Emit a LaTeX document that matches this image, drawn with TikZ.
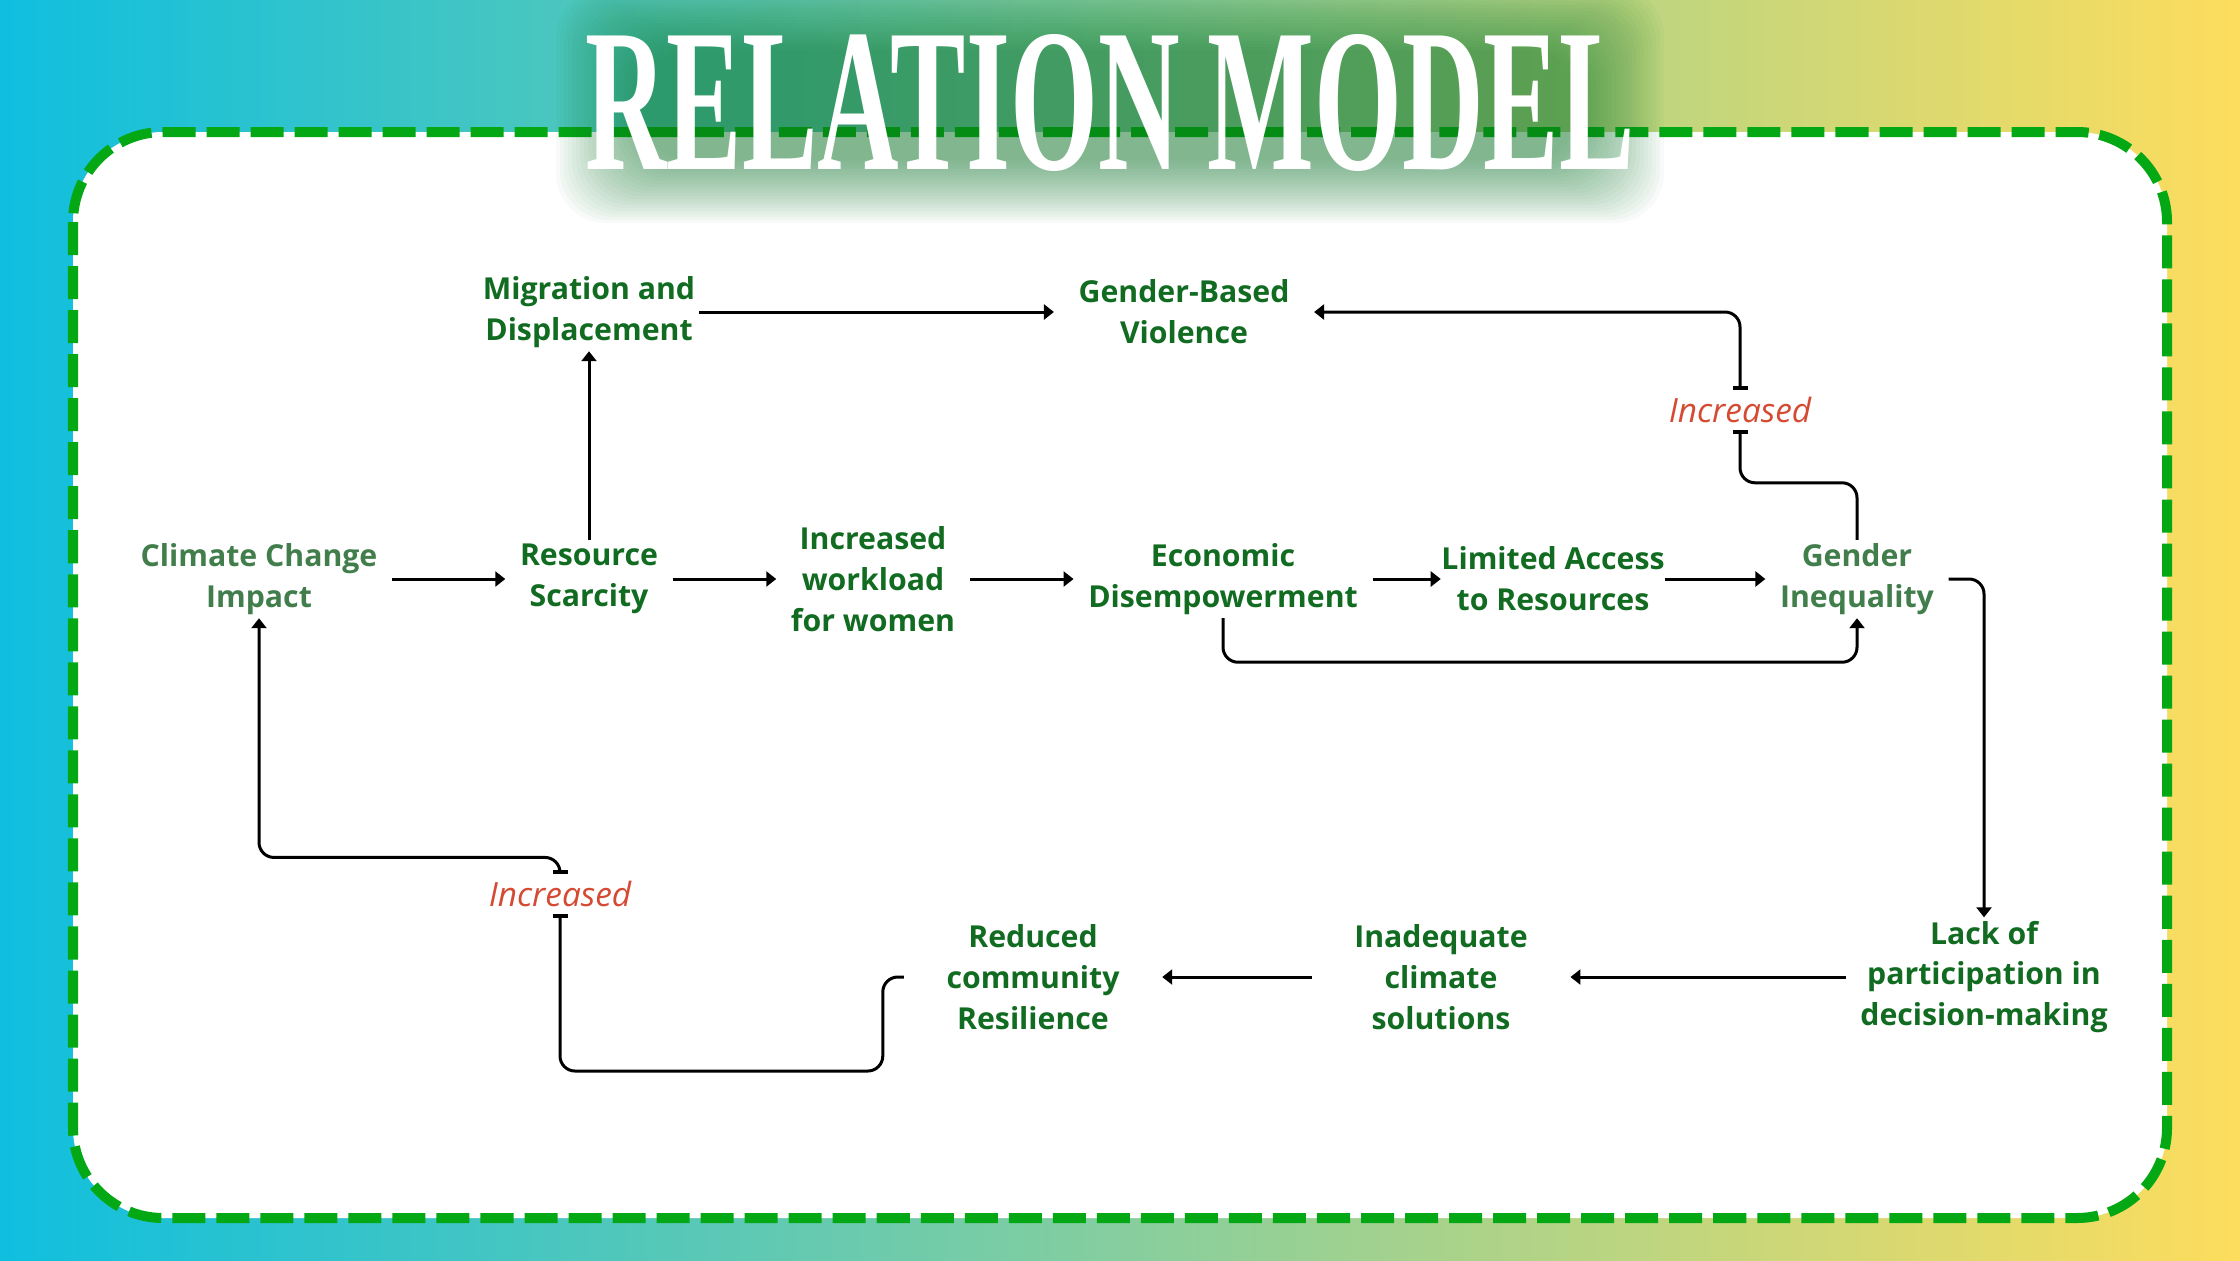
\documentclass[tikz,border=0pt]{standalone}
\usepackage{fontspec}
\setmainfont{Open Sans}
\newfontfamily\titlefont{Liberation Serif}
\usetikzlibrary{arrows.meta}
\definecolor{bgleft}{RGB}{15,191,223}
\definecolor{bgmid}{RGB}{140,205,145}
\definecolor{bgright}{RGB}{253,221,93}
\definecolor{dashgreen}{RGB}{4,168,21}
\definecolor{txtgreen}{RGB}{17,108,33}
\definecolor{fadegreen}{RGB}{65,126,76}
\definecolor{glowgreen}{RGB}{20,125,50}
\definecolor{notered}{RGB}{213,74,51}
\tikzset{
	item/.style={align=center, text=txtgreen, font=\bfseries\fontsize{8.6}{11.6}\selectfont, inner xsep=0.14cm, inner ysep=0.03cm},
	faded/.style={item, text=fadegreen},
	note/.style={text=notered, font=\itshape\fontsize{9.5}{11}\selectfont, inner xsep=0.05cm, inner ysep=0.06cm},
	link/.style={line width=0.03cm, -{Triangle[length=0.1cm,width=0.15cm]}, rounded corners=0.15cm},
	cut/.style={line width=0.03cm, -{Bar[width=0.15cm,line width=0.04cm]}, rounded corners=0.15cm},
	barlink/.style={link, {Bar[width=0.15cm,line width=0.04cm]}-{Triangle[length=0.1cm,width=0.15cm]}}
}
\begin{document}
\begin{tikzpicture}[x=0.01cm, y=-0.01cm]
				\useasboundingbox (0,0) rectangle (2240,1260);
				\shade[left color=bgleft, middle color=bgmid, right color=bgright] (0,0) rectangle (2240,1260);
				\draw[fill=white, draw=dashgreen, line width=0.1cm, dash pattern=on 0.33cm off 0.11cm, rounded corners=0.9cm] (73,132) rectangle (2167,1218);
				% soft glow behind the title
				\foreach \i in {0,...,21} {
					\fill[glowgreen, opacity=0.032, rounded corners=0.5cm] (640-\i*4,50-\i*3) rectangle (1580+\i*4,160+\i*3);
				}
				\node[text=white] (title) at (1110,103) {\scalebox{0.554}[1]{\titlefont\bfseries\fontsize{58}{58}\selectfont RELATION MODEL}};

				\node[faded] (climate) at (259,579) {Climate Change\\Impact};
				\node[item] (scarcity) at (589,579) {Resource\\Scarcity};
				\node[item] (workload) at (873,579) {Increased\\workload\\for women};
				\node[item] (econ) at (1223,579) {Economic\\Disempowerment};
				\node[item, inner xsep=0] (access) at (1553,579) {Limited Access\\to Resources};
				\node[faded] (inequality) at (1857,579) {Gender\\Inequality};
				\node[item, inner xsep=0.03cm] (migration) at (589,312) {Migration and\\Displacement};
				\node[item, inner xsep=0.24cm] (violence) at (1184,312) {Gender-Based\\Violence};
				\node[note] (incA) at (1740,410) {Increased};
				\node[note] (incB) at (560,894) {Increased};
				\node[item] (lack) at (1984,977) {Lack of\\participation in\\decision-making};
				\node[item, inner xsep=0.42cm] (solutions) at (1441,977) {Inadequate\\climate\\solutions};
				\node[item, inner xsep=0.42cm] (resilience) at (1033,977) {Reduced\\community\\Resilience};

				\draw[link] (climate) -- (scarcity);
				\draw[link] (scarcity) -- (workload);
				\draw[link] (workload) -- (econ);
				\draw[link] (econ) -- (access);
				\draw[link] (access) -- (inequality);
				\draw[link] (scarcity) -- (migration);
				\draw[link] (migration) -- (violence);
				\draw[link] (econ.south) -- ++(0,44) -| (inequality.south);
				\draw[cut] (inequality.north) -- ++(0,-57) -| (incA.south);
				\draw[barlink] (incA.north) |- (violence.east);
				\draw[link] (inequality.east) -| (lack.north);
				\draw[link] (lack) -- (solutions);
				\draw[link] (solutions) -- (resilience);
				\draw[cut] (resilience.west) -| ++(-21,94) -| (incB.south);
				\draw[barlink] (incB.north) -- ++(0,-17) -| (climate.south);
\end{tikzpicture}
\end{document}
